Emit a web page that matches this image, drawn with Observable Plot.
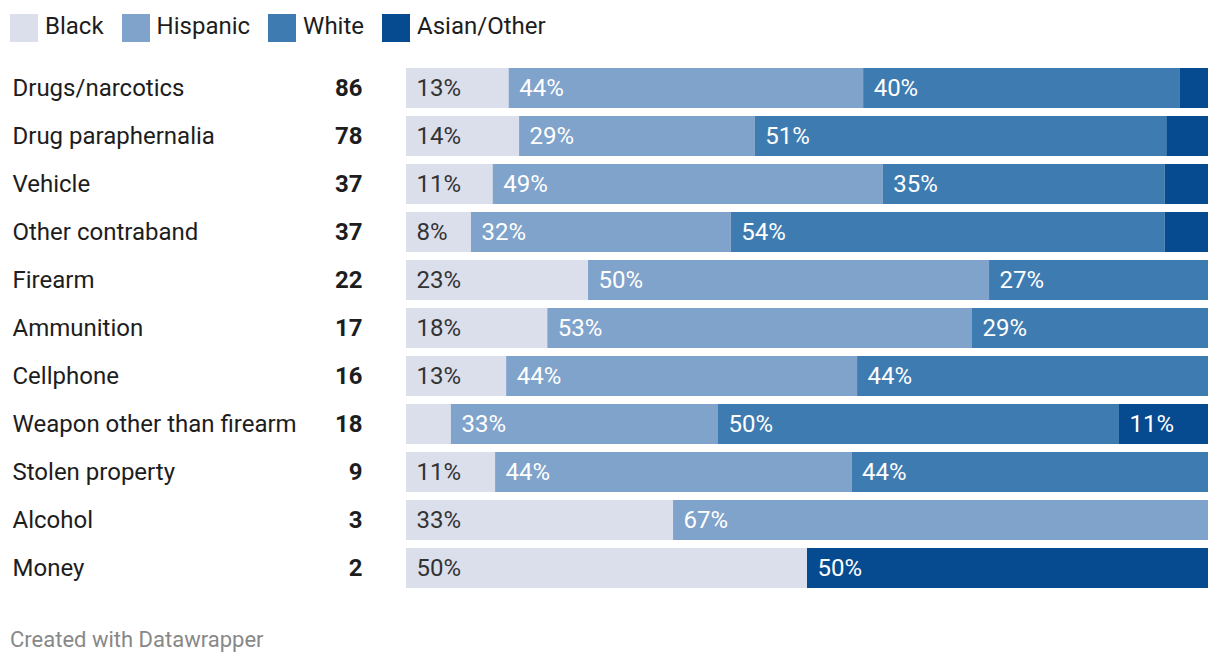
<!DOCTYPE html>
<html>
<head>
<meta charset="utf-8">
<script src="https://cdn.jsdelivr.net/npm/d3@7"></script>
<script src="https://cdn.jsdelivr.net/npm/@observablehq/plot@0.6"></script>
<style>
  html, body { margin: 0; padding: 0; background: #fff; }
  body { width: 1220px; height: 666px; position: relative; font-family: Roboto, "Noto Sans", sans-serif; }
  #legend { position: absolute; left: 10px; top: 14px; display: flex; align-items: center; height: 28px; font-size: 24px; color: #1d1d1d; }
  .item { display: flex; align-items: center; margin-right: 18px; }
  .item span { position: relative; top: -2px; line-height: 28px; }
  .sw { width: 28px; height: 28px; margin-right: 7px; }
  #chart { position: absolute; left: 0; top: 52px; }
  #footer { position: absolute; left: 10px; top: 627px; font-size: 22px; color: #888; }
</style>
</head>
<body>
<div id="legend"></div>
<div id="chart"></div>
<div id="footer">Created with Datawrapper</div>
<script>
const categories = ["Drugs/narcotics","Drug paraphernalia","Vehicle","Other contraband","Firearm","Ammunition","Cellphone","Weapon other than firearm","Stolen property","Alcohol","Money"];
const counts = [86,78,37,37,22,17,16,18,9,3,2];
const races = ["Black","Hispanic","White","Asian/Other"];
const colors = ["#dadfeb","#7fa3ca","#3e7bb0","#064a8f"];
const black    = [12.8,14.1,10.8, 8.1,22.7,17.6,12.5, 5.6,11.1,33.3,50];
const hispanic = [44.2,29.4,48.6,32.4,50.0,52.9,43.8,33.3,44.4,66.7, 0];
const white    = [39.5,51.3,35.1,54.1,27.3,29.4,43.8,50.0,44.4, 0, 0];
const asian    = [ 3.5, 5.2, 5.4, 5.4, 0, 0, 0,11.1, 0, 0,50];

const series = [black, hispanic, white, asian];
const data = [];
categories.forEach((c, i) => {
  races.forEach((r, j) => data.push({cat: c, race: r, value: series[j][i]}));
});
const rows = categories.map((c, i) => ({cat: c, count: counts[i]}));

// legend
const leg = document.getElementById("legend");
races.forEach((r, j) => {
  const it = document.createElement("div");
  it.className = "item";
  it.innerHTML = `<div class="sw" style="background:${colors[j]}"></div><span>${r}</span>`;
  leg.appendChild(it);
});

const stackOpts = {x: "value", y: "cat", z: "race", offset: "normalize", order: races};
const label = (d) => d.value >= 7 ? Math.round(d.value) + "%" : "";

const chart = Plot.plot({
  width: 1220,
  height: 558,
  marginLeft: 406,
  marginRight: 12,
  marginTop: 12,
  marginBottom: 18,
  style: {fontFamily: "Roboto, 'Noto Sans', sans-serif", fontSize: "24px", background: "#fff"},
  x: {domain: [0, 1], axis: null},
  y: {domain: categories, axis: null, paddingInner: 8/48, paddingOuter: 4/48},
  color: {domain: races, range: colors},
  marks: [
    Plot.barX(data, Plot.stackX({...stackOpts, fill: "race"})),
    Plot.text(data, Plot.stackX1({...stackOpts, text: d => d.race === "Black" ? label(d) : "", textAnchor: "start", dx: 10, fill: "#333"})),
    Plot.text(data, Plot.stackX1({...stackOpts, text: d => d.race !== "Black" ? label(d) : "", textAnchor: "start", dx: 10, fill: "#fff"})),
    Plot.text(rows, {y: "cat", text: "cat", frameAnchor: "left", dx: -394, textAnchor: "start", fill: "#1d1d1d"}),
    Plot.text(rows, {y: "cat", text: "count", frameAnchor: "left", dx: -44, textAnchor: "end", fontWeight: "bold", fill: "#1d1d1d"})
  ]
});
document.getElementById("chart").appendChild(chart);
</script>
</body>
</html>
